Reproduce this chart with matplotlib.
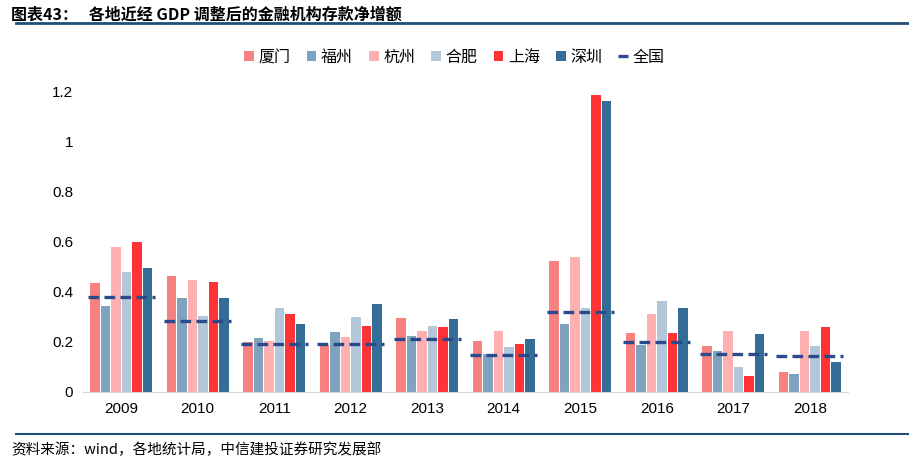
import matplotlib.pyplot as plt
import numpy as np

plt.rcParams['font.family'] = ['Liberation Sans', 'Noto Sans CJK SC', 'DejaVu Sans']

years = ["2009", "2010", "2011", "2012", "2013", "2014", "2015", "2016", "2017", "2018"]
xiamen = [0.434, 0.461, 0.199, 0.186, 0.297, 0.205, 0.522, 0.237, 0.183, 0.080]
fuzhou = [0.342, 0.373, 0.216, 0.238, 0.222, 0.150, 0.270, 0.188, 0.162, 0.073]
hangzhou = [0.577, 0.445, 0.205, 0.221, 0.242, 0.242, 0.538, 0.309, 0.242, 0.242]
hefei = [0.478, 0.302, 0.336, 0.298, 0.265, 0.178, 0.335, 0.363, 0.100, 0.183]
shanghai = [0.597, 0.440, 0.310, 0.265, 0.260, 0.192, 1.183, 0.237, 0.062, 0.260]
shenzhen = [0.494, 0.373, 0.270, 0.352, 0.293, 0.210, 1.160, 0.335, 0.233, 0.118]
national = [0.380, 0.283, 0.190, 0.190, 0.212, 0.146, 0.320, 0.200, 0.152, 0.144]

series = [
    ("厦门", xiamen, "#F7817F"),
    ("福州", fuzhou, "#7FA2BF"),
    ("杭州", hangzhou, "#FFB0B0"),
    ("合肥", hefei, "#B3C7DA"),
    ("上海", shanghai, "#FF3236"),
    ("深圳", shenzhen, "#346D95"),
]

fig = plt.figure(figsize=(9.09, 4.66), dpi=100)
ax = fig.add_axes([0.0913, 0.1588, 0.8416, 0.6459])

x = np.arange(len(years))
step = 0.138
width = 0.124
handles = []
for i, (name, vals, color) in enumerate(series):
    b = ax.bar(x + (i - 2.5) * step, vals, width, color=color, label=name, zorder=2)
    handles.append(b)

for j, v in enumerate(national):
    ln, = ax.plot([x[j] - 0.44, x[j] + 0.44], [v, v], color="#2B4A8B", lw=2.4,
                  dashes=(3.2, 1.6), zorder=3, label="全国")
handles.append(ln)

ax.set_xlim(-0.5, len(years) - 0.5)
ax.set_ylim(0, 1.2)
ax.set_xticks(x)
ax.set_xticklabels(years, fontsize=11)
ax.set_yticks([0, 0.2, 0.4, 0.6, 0.8, 1.0, 1.2])
ax.set_yticklabels(["0", "0.2", "0.4", "0.6", "0.8", "1", "1.2"], fontsize=11)
ax.tick_params(length=0, pad=7)
for s in ["top", "right", "left"]:
    ax.spines[s].set_visible(False)
ax.spines["bottom"].set_color("#D9D9D9")

labels = [s[0] for s in series] + ["全国"]
fig.legend(handles, labels, loc="center", bbox_to_anchor=(0.5, 0.877), ncol=7,
           frameon=False, prop={"size": 11.5, "family": ["Noto Sans CJK SC"]},
           handlelength=0.6, handleheight=0.6, handletextpad=0.3, columnspacing=1.0)

# title and frame lines
fig.text(0.012, 0.968, "图表43：   各地近经 GDP 调整后的金融机构存款净增额", fontsize=11.5,
         fontweight="bold", family=["Noto Sans CJK SC"], va="center")
fig.add_artist(plt.Line2D([0.018, 1.0], [0.951, 0.951], color="#1F4E79", lw=2))
fig.add_artist(plt.Line2D([0.018, 1.0], [0.069, 0.069], color="#1F4E79", lw=1.5))
fig.text(0.012, 0.034, "资料来源：wind，各地统计局，中信建投证券研究发展部", fontsize=10.5,
         style="italic", family=["Noto Sans CJK SC"], va="center")

fig.savefig("out.png", dpi=100)
